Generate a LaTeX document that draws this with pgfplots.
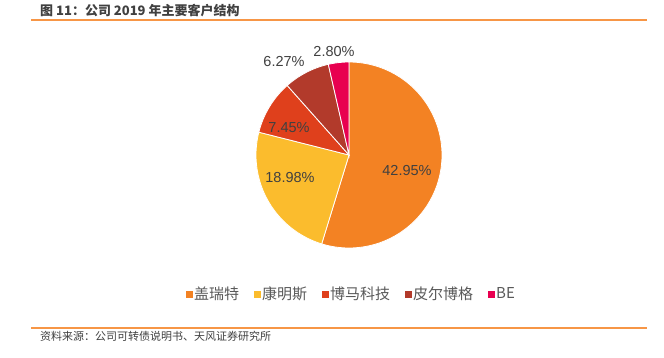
\documentclass[border=0pt]{standalone}
\usepackage{pgfplots}
\pgfplotsset{compat=1.18}
\usepackage{fontspec}
\setmainfont{Liberation Sans}
\newfontfamily\cjk{Noto Sans CJK SC}
\definecolor{cOrange}{RGB}{243,130,35}
\definecolor{cYellow}{RGB}{251,188,45}
\definecolor{cRed}{RGB}{223,64,28}
\definecolor{cBrown}{RGB}{178,58,43}
\definecolor{cPink}{RGB}{232,0,80}
\definecolor{lineOrange}{RGB}{247,150,70}
\definecolor{txt}{RGB}{64,64,64}
\definecolor{legtxt}{RGB}{89,89,89}
% data (percent)
\def\vA{42.95}\def\vB{18.98}\def\vC{7.45}\def\vD{6.27}\def\vE{2.80}
\pgfmathsetmacro\T{\vA+\vB+\vC+\vD+\vE}
\pgfmathsetmacro\aA{90}
\pgfmathsetmacro\aB{\aA-360*\vA/\T}
\pgfmathsetmacro\aC{\aB-360*\vB/\T}
\pgfmathsetmacro\aD{\aC-360*\vC/\T}
\pgfmathsetmacro\aE{\aD-360*\vD/\T}
\pgfmathsetmacro\aF{\aE-360*\vE/\T}
\def\cx{349}\def\cy{202}\def\rr{93}
\begin{document}
\begin{tikzpicture}
\begin{axis}[
  width=664pt, height=357pt, scale only axis,
  xmin=0, xmax=664, ymin=0, ymax=357,
  hide axis, clip=false,
  legend columns=-1,
  legend image code/.code={\fill[#1,draw=none] (0pt,-3.5pt) rectangle (7pt,3.5pt);},
  legend style={at={(axis cs:351,63)}, anchor=center, draw=none, fill=none,
    font=\cjk\fontsize{15}{17}\selectfont, text=legtxt, inner sep=0pt,
    nodes={inner sep=1.5pt},
    /tikz/every even column/.append style={column sep=13pt}},
]
\path (rel axis cs:0,0) rectangle (rel axis cs:1,1);
\addplot[fill=cOrange, draw=white, line width=0.8pt, domain=\aB:\aA, samples=120, variable=\t]
  ({\cx+\rr*cos(\t)}, {\cy+\rr*sin(\t)}) -- (axis cs:\cx,\cy) -- cycle;
\addlegendentry{盖瑞特}
\addplot[fill=cYellow, draw=white, line width=0.8pt, domain=\aC:\aB, samples=60, variable=\t]
  ({\cx+\rr*cos(\t)}, {\cy+\rr*sin(\t)}) -- (axis cs:\cx,\cy) -- cycle;
\addlegendentry{康明斯}
\addplot[fill=cRed, draw=white, line width=0.8pt, domain=\aD:\aC, samples=30, variable=\t]
  ({\cx+\rr*cos(\t)}, {\cy+\rr*sin(\t)}) -- (axis cs:\cx,\cy) -- cycle;
\addlegendentry{博马科技}
\addplot[fill=cBrown, draw=white, line width=0.8pt, domain=\aE:\aD, samples=30, variable=\t]
  ({\cx+\rr*cos(\t)}, {\cy+\rr*sin(\t)}) -- (axis cs:\cx,\cy) -- cycle;
\addlegendentry{皮尔博格}
\addplot[fill=cPink, draw=white, line width=0.8pt, domain=\aF:\aE, samples=20, variable=\t]
  ({\cx+\rr*cos(\t)}, {\cy+\rr*sin(\t)}) -- (axis cs:\cx,\cy) -- cycle;
\addlegendentry{BE}
% labels
\begin{scope}[every node/.style={font=\fontsize{14.5}{16}\selectfont, text=txt, inner sep=0pt}]
\node at (axis cs:407,186) {42.95\%};
\node at (axis cs:290,179) {18.98\%};
\node at (axis cs:289,229) {7.45\%};
\node at (axis cs:284,295) {6.27\%};
\node at (axis cs:334,305) {2.80\%};
\end{scope}
% title and source
\draw[lineOrange, line width=1.8pt] (axis cs:31,337) -- (axis cs:647,337);
\node[anchor=west, inner sep=0pt, text=txt, font=\cjk\bfseries\fontsize{13}{15}\selectfont] at (axis cs:40,346) {图 11：公司 2019 年主要客户结构};
\draw[lineOrange, line width=1.5pt] (axis cs:31,29) -- (axis cs:647,29);
\node[anchor=west, inner sep=0pt, text=txt, font=\cjk\fontsize{11}{13}\selectfont] at (axis cs:40,21) {资料来源：公司可转债说明书、天风证券研究所};
\end{axis}
\end{tikzpicture}
\end{document}
